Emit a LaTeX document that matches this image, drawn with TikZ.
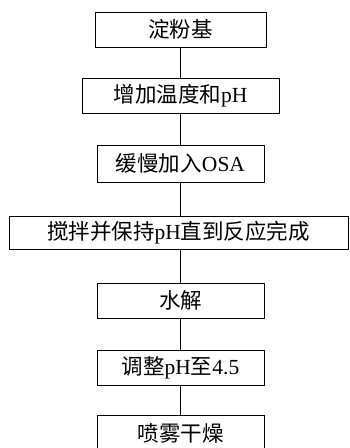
\documentclass[tikz,border=0pt]{standalone}
\usepackage{fontspec}
\setmainfont{Liberation Serif}
\newfontfamily\cjk{Noto Sans CJK SC}
\begin{document}
\begin{tikzpicture}[x=1pt,y=-1pt,
  stepbox/.style={draw=black,line width=0.9pt,rectangle,inner sep=0pt,
    font=\fontsize{21.5}{25}\selectfont},
  link/.style={draw=black,line width=0.9pt}]
\useasboundingbox (0,0) rectangle (349,448);
\clip (0,0) rectangle (349,448);
\fill[white] (0,0) rectangle (349,448);
\node[stepbox,minimum width=171pt,minimum height=35pt] (b1) at (180.5,29.5) {{\cjk 淀粉基}};
\node[stepbox,minimum width=197pt,minimum height=35pt] (b2) at (180.5,95.5) {{\cjk 增加温度和}pH};
\node[stepbox,minimum width=167pt,minimum height=37pt] (b3) at (180.5,163.5) {{\cjk 缓慢加入}OSA};
\node[stepbox,minimum width=339pt,minimum height=33pt] (b4) at (178.5,232.5) {{\cjk 搅拌并保持}pH{\cjk 直到反应完成}};
\node[stepbox,minimum width=167pt,minimum height=35pt] (b5) at (180.5,300.5) {{\cjk 水解}};
\node[stepbox,minimum width=167pt,minimum height=35pt] (b6) at (180.5,367.5) {{\cjk 调整}pH{\cjk 至}4.5};
\node[stepbox,minimum width=167pt,minimum height=35pt,anchor=north] (b7) at (180.5,415) {{\cjk 喷雾干燥}};
\draw[link] (b1.south) -- (b2.north);
\draw[link] (b2.south) -- (b3.north);
\draw[link] (b3.south) -- (b4.north -| b3.south);
\draw[link] (b4.south -| b3.south) -- (b5.north);
\draw[link] (b5.south) -- (b6.north);
\draw[link] (b6.south) -- (b7.north);
\end{tikzpicture}
\end{document}
